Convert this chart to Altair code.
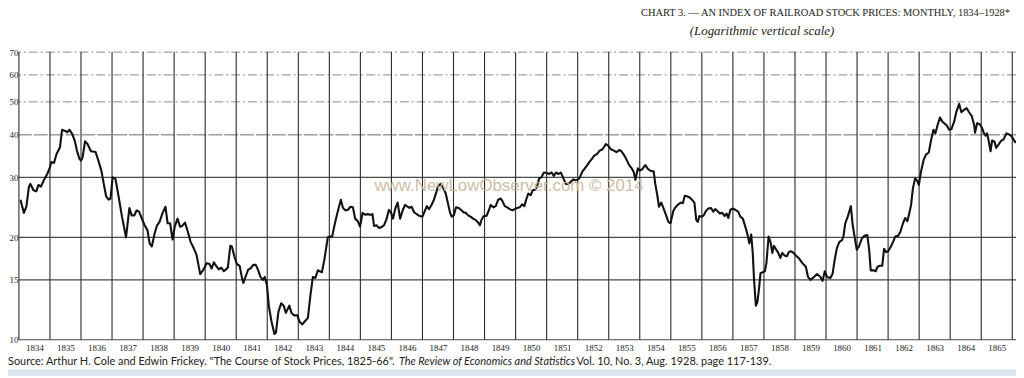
import altair as alt
import pandas as pd

# ---- data (monthly index, log scale) ----
years = [
    1834.05, 1834.16, 1834.24, 1834.32, 1834.37, 1834.47, 1834.56, 1834.63, 1834.71, 1834.81, 1834.92,
    1835.00, 1835.04, 1835.13, 1835.21, 1835.32, 1835.39, 1835.51, 1835.56, 1835.63, 1835.72, 1835.80, 1835.87, 1835.95,
    1836.00, 1836.05, 1836.13, 1836.21, 1836.32, 1836.47, 1836.56, 1836.66, 1836.74, 1836.81, 1836.89, 1836.95,
    1837.02, 1837.11, 1837.21, 1837.32, 1837.45, 1837.56, 1837.63, 1837.72, 1837.79, 1837.87, 1837.95,
    1838.05, 1838.14, 1838.21, 1838.28, 1838.37, 1838.45, 1838.53, 1838.63, 1838.72, 1838.79, 1838.87, 1838.95,
    1839.02, 1839.11, 1839.19, 1839.26, 1839.35, 1839.44, 1839.53, 1839.63, 1839.72, 1839.84, 1839.95,
    1840.05, 1840.14, 1840.21, 1840.28, 1840.37, 1840.44, 1840.52, 1840.60, 1840.67, 1840.73, 1840.81, 1840.86, 1840.94,
    1841.02, 1841.11, 1841.18, 1841.23, 1841.31, 1841.39, 1841.46, 1841.55, 1841.63, 1841.71, 1841.78, 1841.86, 1841.92, 1841.99,
    1842.05, 1842.13, 1842.23, 1842.28, 1842.36, 1842.45, 1842.53, 1842.60, 1842.71, 1842.78, 1842.86, 1842.97,
    1843.04, 1843.13, 1843.20, 1843.31, 1843.39, 1843.47, 1843.55, 1843.63, 1843.76, 1843.84, 1843.95,
    1844.02, 1844.09, 1844.18, 1844.26, 1844.37, 1844.44, 1844.52, 1844.60, 1844.68, 1844.76, 1844.83, 1844.92, 1844.99,
    1845.07, 1845.15, 1845.23, 1845.32, 1845.39, 1845.44, 1845.52, 1845.60, 1845.67, 1845.76, 1845.84, 1845.92, 1845.99,
    1846.05, 1846.13, 1846.20, 1846.28, 1846.37, 1846.44, 1846.52, 1846.58, 1846.65, 1846.73, 1846.87,
    1847.00, 1847.14, 1847.21, 1847.29, 1847.37, 1847.45, 1847.50, 1847.58, 1847.66, 1847.75, 1847.82, 1847.89, 1847.94,
    1848.01, 1848.08, 1848.16, 1848.24, 1848.32, 1848.40, 1848.47, 1848.55, 1848.63, 1848.71, 1848.78, 1848.85, 1848.90, 1848.97,
    1849.06, 1849.13, 1849.20, 1849.29, 1849.36, 1849.44, 1849.52, 1849.58, 1849.65, 1849.73, 1849.81, 1849.90, 1849.97,
    1850.05, 1850.13, 1850.21, 1850.28, 1850.34, 1850.41, 1850.49, 1850.55, 1850.63, 1850.68, 1850.76, 1850.83, 1850.91,
    1851.00, 1851.07, 1851.16, 1851.23, 1851.30, 1851.39, 1851.46, 1851.54, 1851.62, 1851.70, 1851.77, 1851.86, 1851.93,
    1852.02, 1852.07, 1852.15, 1852.23, 1852.31, 1852.38, 1852.47, 1852.54, 1852.62, 1852.70, 1852.80, 1852.91, 1852.98,
    1853.07, 1853.18, 1853.25, 1853.34, 1853.41, 1853.50, 1853.57, 1853.65, 1853.74, 1853.81, 1853.86, 1853.94,
    1854.00, 1854.08, 1854.18, 1854.27, 1854.34, 1854.45, 1854.50, 1854.57, 1854.62, 1854.69, 1854.76, 1854.85, 1854.92, 1854.99,
    1855.08, 1855.15, 1855.24, 1855.32, 1855.39, 1855.45, 1855.52, 1855.61, 1855.68, 1855.76, 1855.82, 1855.87, 1855.92,
    1856.00, 1856.06, 1856.13, 1856.21, 1856.29, 1856.37, 1856.43, 1856.50, 1856.58, 1856.66, 1856.73, 1856.80, 1856.85, 1856.92, 1856.99,
    1857.08, 1857.17, 1857.24, 1857.32, 1857.40, 1857.47, 1857.53, 1857.59, 1857.64, 1857.68, 1857.74, 1857.79, 1857.84, 1857.89, 1857.96,
    1858.03, 1858.08, 1858.15, 1858.21, 1858.27, 1858.32, 1858.38, 1858.45, 1858.53, 1858.59, 1858.66, 1858.74, 1858.80, 1858.88, 1858.95,
    1859.03, 1859.14, 1859.24, 1859.35, 1859.42, 1859.50, 1859.61, 1859.71, 1859.82, 1859.89, 1859.96,
    1860.03, 1860.14, 1860.21, 1860.28, 1860.35, 1860.43, 1860.51, 1860.56, 1860.62, 1860.70, 1860.80, 1860.86, 1860.94, 1860.99,
    1861.06, 1861.15, 1861.23, 1861.33, 1861.39, 1861.44, 1861.52, 1861.60, 1861.66, 1861.73, 1861.81, 1861.87, 1861.93,
    1862.00, 1862.09, 1862.16, 1862.23, 1862.32, 1862.39, 1862.48, 1862.55, 1862.62, 1862.68, 1862.74, 1862.80, 1862.87, 1862.94, 1862.99,
    1863.06, 1863.15, 1863.22, 1863.31, 1863.38, 1863.46, 1863.52, 1863.60, 1863.67, 1863.76, 1863.81, 1863.89, 1863.97,
    1864.04, 1864.13, 1864.20, 1864.29, 1864.36, 1864.45, 1864.53, 1864.61, 1864.69, 1864.77, 1864.80, 1864.87, 1864.96,
    1865.03, 1865.09, 1865.14, 1865.19, 1865.24, 1865.30, 1865.35, 1865.43, 1865.48, 1865.56, 1865.64, 1865.72, 1865.81, 1865.88, 1865.96,
    1866.04, 1866.11,
]
values = [
    25.8, 23.6, 24.6, 28.1, 28.7, 27.5, 27.3, 28.5, 28.2, 29.5, 30.8,
    32.1, 33.3, 33.1, 35.1, 36.7, 41.4, 41.0, 40.7, 41.4, 40.2, 38.4, 35.9, 34.0,
    33.6, 34.3, 38.3, 37.6, 35.8, 35.6, 33.6, 31.3, 28.5, 26.4, 25.8, 26.0,
    30.0, 29.7, 26.4, 23.0, 20.0, 24.4, 23.2, 23.2, 24.0, 23.8, 22.8,
    21.7, 21.0, 19.2, 18.8, 20.5, 21.7, 22.2, 23.6, 24.6, 22.0, 22.0, 19.7,
    21.5, 22.7, 21.5, 21.6, 22.1, 20.8, 19.4, 18.6, 17.8, 15.6, 16.1,
    16.8, 16.7, 16.2, 16.9, 16.4, 16.1, 16.3, 15.9, 16.1, 16.3, 18.9, 18.8, 17.6,
    16.7, 16.5, 15.3, 14.7, 15.4, 16.1, 16.2, 16.6, 16.6, 16.0, 15.3, 15.0, 15.3, 14.5,
    12.6, 11.4, 10.4, 10.5, 12.1, 12.8, 12.6, 12.0, 12.6, 12.0, 11.8, 11.8,
    11.3, 11.1, 11.3, 11.6, 13.5, 15.3, 15.2, 16.0, 15.8, 17.2, 20.0,
    20.1, 20.1, 22.0, 23.6, 25.8, 24.4, 24.0, 24.1, 24.6, 24.5, 22.7, 22.3, 21.5,
    23.6, 23.3, 23.4, 23.3, 23.4, 21.6, 21.7, 21.3, 21.4, 21.7, 22.6, 24.1, 23.6,
    22.7, 24.4, 25.3, 22.7, 24.1, 24.9, 24.6, 24.4, 24.6, 23.7, 23.2,
    23.0, 24.7, 24.2, 24.9, 25.8, 27.2, 28.2, 28.7, 28.0, 26.9, 25.2, 23.6, 23.0,
    23.2, 24.5, 24.4, 24.1, 23.7, 23.6, 23.2, 23.0, 22.7, 22.5, 22.2, 21.7, 22.5, 23.1,
    23.1, 23.9, 24.9, 24.5, 24.7, 25.8, 26.0, 25.5, 24.7, 24.5, 24.2, 24.0, 24.2,
    24.4, 24.5, 25.0, 24.7, 25.8, 26.9, 26.6, 27.5, 27.6, 28.0, 29.8, 30.0, 31.0,
    30.9, 30.7, 31.0, 30.3, 31.0, 30.7, 31.0, 29.8, 28.7, 28.7, 29.1, 29.6, 29.4,
    29.6, 30.0, 31.2, 31.9, 32.6, 33.3, 34.1, 34.8, 35.1, 35.9, 36.3, 37.6, 37.2,
    36.3, 35.9, 35.6, 36.1, 35.8, 34.8, 33.9, 32.7, 31.9, 31.0, 29.5, 31.9,
    31.4, 31.7, 32.6, 31.7, 31.4, 31.2, 28.7, 26.4, 24.6, 25.3, 24.4, 23.2, 22.2, 22.0,
    23.9, 24.5, 25.0, 25.3, 25.2, 26.5, 26.4, 26.2, 25.8, 25.3, 22.5, 22.2, 23.1,
    23.0, 23.2, 23.9, 24.3, 24.4, 23.8, 24.2, 23.9, 23.5, 23.6, 23.1, 23.5, 22.8, 24.1, 24.3,
    24.1, 23.8, 23.0, 22.7, 21.5, 20.4, 19.2, 20.4, 18.0, 15.1, 12.6, 12.9, 14.1, 15.7, 15.8,
    15.9, 16.8, 20.1, 19.4, 18.0, 18.9, 18.5, 18.1, 17.4, 18.0, 17.7, 17.6, 18.1, 18.2, 18.0,
    17.7, 17.3, 16.8, 16.4, 15.3, 15.0, 15.3, 15.6, 15.3, 14.9, 15.9,
    15.3, 15.2, 15.6, 17.2, 18.6, 19.4, 19.6, 20.1, 22.0, 23.0, 24.7, 21.7, 19.6, 18.4,
    18.8, 19.8, 20.2, 20.3, 18.4, 16.0, 16.0, 15.9, 16.4, 16.5, 16.5, 18.5, 18.1,
    18.2, 18.8, 19.4, 20.1, 20.2, 20.7, 22.0, 22.8, 22.3, 23.5, 24.9, 27.9, 29.8, 29.3, 28.5,
    31.2, 33.9, 35.0, 35.5, 38.4, 41.4, 40.4, 42.9, 45.0, 43.6, 43.3, 42.6, 41.4,
    41.6, 43.8, 46.8, 49.3, 46.6, 47.4, 47.9, 46.6, 45.5, 42.9, 40.6, 43.3, 42.9,
    41.8, 40.4, 39.8, 40.4, 38.4, 35.8, 38.5, 38.2, 36.6, 37.5, 38.4, 38.8, 40.4, 40.2, 39.8,
    38.8, 37.9,
]

grid_years = list(range(1834, 1867))
label_years = list(range(1834, 1866))
y_ticks = [10, 15, 20, 30, 40, 50, 60, 70]
solid_levels = [10, 15, 20, 30]
light_levels = [40]
dashed_levels = [50, 60, 70]

title_line1 = "CHART 3. — AN INDEX OF RAILROAD STOCK PRICES: MONTHLY, 1834–1928*"
title_line2 = "(Logarithmic vertical scale)"
watermark = "www.NewLowObserver.com © 2014"
source_a = "Source: Arthur H. Cole and Edwin Frickey. \"The Course of Stock Prices, 1825-66\"."
source_b = "The Review of Economics and Statistics"
source_c = ". Vol. 10, No. 3, Aug. 1928. page 117-139."

W, H = 1005, 290
SERIF = "Liberation Serif"
xscale = alt.Scale(domain=[1834, 1866.12], nice=False, zero=False)
yscale = alt.Scale(type="log", domain=[10, 70], nice=False)

x_axis = alt.Axis(
    values=[y + 0.5 for y in label_years], labelExpr="floor(datum.value)",
    grid=False, ticks=False, domain=False, title=None,
    labelFont=SERIF, labelFontSize=9, labelColor="#222", labelPadding=4,
)
y_axis = alt.Axis(
    values=y_ticks, format="d", grid=False, ticks=False, domain=False,
    title=None, labelFont=SERIF, labelFontSize=9, labelColor="#222",
    labelPadding=1,
)

line_df = pd.DataFrame({"year": years, "value": values})

vgrid = alt.Chart(pd.DataFrame({"year": grid_years})).mark_rule(
    color="#2a2a2a", strokeWidth=1.1
).encode(x=alt.X("year:Q", scale=xscale, axis=x_axis))

hsolid = alt.Chart(pd.DataFrame({"value": solid_levels})).mark_rule(
    color="#4a4a4a", strokeWidth=1.1
).encode(y=alt.Y("value:Q", scale=yscale, axis=y_axis))

hlight = alt.Chart(pd.DataFrame({"value": light_levels})).mark_rule(
    color="#6a6a6a", strokeWidth=1, strokeDash=[14, 2]
).encode(y=alt.Y("value:Q", scale=yscale, axis=y_axis))

hdash = alt.Chart(pd.DataFrame({"value": dashed_levels})).mark_rule(
    color="#8a8a8a", strokeWidth=1, strokeDash=[9, 3, 2, 3]
).encode(y=alt.Y("value:Q", scale=yscale, axis=y_axis))

line = alt.Chart(line_df).mark_line(
    color="#111111", strokeWidth=2.1, strokeJoin="round"
).encode(
    x=alt.X("year:Q", scale=xscale, axis=x_axis),
    y=alt.Y("value:Q", scale=yscale, axis=y_axis),
)


def text_layer(txt, x, y, **kw):
    return alt.Chart(pd.DataFrame({"t": [txt]})).mark_text(**kw).encode(
        x=alt.value(x), y=alt.value(y), text="t:N"
    )


t1 = text_layer(title_line1, 813, -39, font=SERIF, fontSize=10.5, align="center",
                baseline="middle", color="#222")
t2 = text_layer(title_line2, 749, -21, font=SERIF, fontSize=13, fontStyle="italic",
                align="center", baseline="middle", color="#222")
wm = text_layer(watermark, 494, 135, font="Liberation Sans", fontSize=17,
                align="center", baseline="middle", color="#c8b79a", opacity=0.9)
sa = text_layer(source_a, -11, 312, font="Lato", fontSize=11, align="left",
                baseline="middle", color="#222")
sb = text_layer(source_b, 383, 312, font="Lato", fontSize=11, fontStyle="italic",
                align="left", baseline="middle", color="#222")
sc = text_layer(source_c, 557, 312, font="Lato", fontSize=11, align="left",
                baseline="middle", color="#222")

band = alt.Chart(pd.DataFrame({"k": [0]})).mark_rect(color="#dbe3ee").encode(
    x=alt.value(-11), x2=alt.value(W), y=alt.value(320), y2=alt.value(330)
)

chart = alt.layer(
    band, hdash, hlight, hsolid, vgrid, line, wm, t1, t2, sa, sb, sc
).properties(
    width=W, height=H,
    autosize=alt.AutoSizeParams(type="none"),
    padding={"left": 11, "top": 43, "right": 0, "bottom": 35},
    background="white",
).configure_view(stroke=None)

chart.save("out.html", embed_options={"renderer": "svg", "actions": False})
